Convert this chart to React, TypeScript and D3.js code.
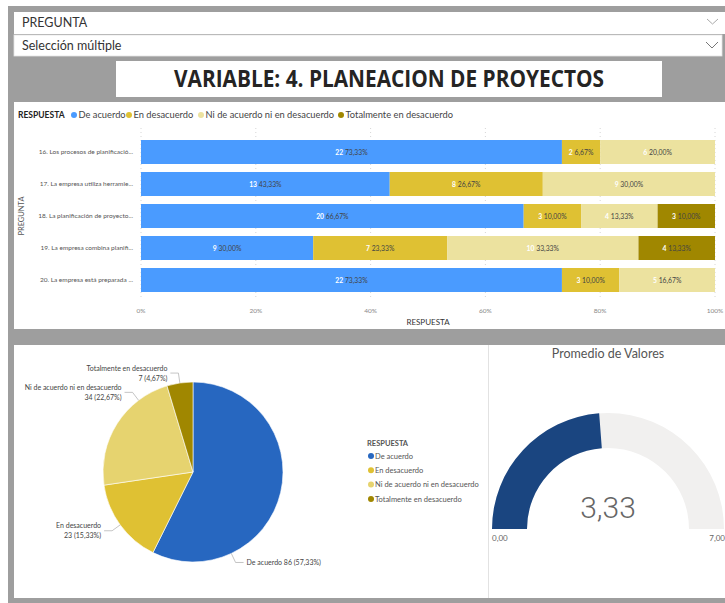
import React from "react";
import * as d3 from "d3";

// ---------- DATA ----------
const questions = [
  "16. Los procesos de planificació...",
  "17. La empresa utiliza herramie...",
  "18. La planificación de proyecto...",
  "19. La empresa combina planifi...",
  "20. La empresa está preparada ...",
];
const responses = [
  "De acuerdo",
  "En desacuerdo",
  "Ni de acuerdo ni en desacuerdo",
  "Totalmente en desacuerdo",
];
const deAcuerdo = [22, 13, 20, 9, 22];
const enDesacuerdo = [2, 8, 3, 7, 3];
const niDeAcuerdo = [6, 9, 4, 10, 5];
const totalmente = [0, 0, 3, 4, 0];
const xTickValues = [0, 0.2, 0.4, 0.6, 0.8, 1];
const gaugeValue = 3.33;
const gaugeMin = 0;
const gaugeMax = 7;

// ---------- STYLE / LAYOUT ----------
const barColors = ["#4A9BFF", "#DFC133", "#ECE29F", "#A08700"];
const pieColors = ["#2767C0", "#DFC133", "#E6D36F", "#A08700"];
const legendX = [74, 129, 201, 341];
const pieLabelFrac = [0.75, 0.5, 0.75, 0.5];
const FONT = "Lato, 'Open Sans', sans-serif";

const fmtNum = (v: number, d = 2) => v.toFixed(d).replace(".", ",");

export default function App() {
  const series = [deAcuerdo, enDesacuerdo, niDeAcuerdo, totalmente];
  const rows = questions.map((q, i) => {
    const o: any = { q };
    responses.forEach((r, k) => (o[r] = series[k][i]));
    return o;
  });
  const stacked = d3.stack<any>().keys(responses).offset(d3.stackOffsetExpand)(rows);

  const x = d3.scaleLinear().domain([0, 1]).range([141, 715]);
  const y = d3.scaleBand<string>().domain(questions).range([134, 298]).paddingInner(0.25).paddingOuter(0.1875);

  // pie
  const totals = responses.map((r, k) => ({ name: r, value: d3.sum(series[k]), k }));
  const grand = d3.sum(totals, (d) => d.value);
  const pie = d3.pie<any>().sort(null).value((d) => d.value)(totals);
  const pcx = 193, pcy = 472, pr = 90;
  const arc = d3.arc<any>().innerRadius(0).outerRadius(pr);

  // gauge
  const gcx = 608, gcy = 529;
  const gScale = d3.scaleLinear().domain([gaugeMin, gaugeMax]).range([-Math.PI / 2, Math.PI / 2]);
  const gArc = d3.arc<any>().innerRadius(81).outerRadius(116);

  return (
    <div style={{ position: "absolute", left: 0, top: 0 }}>
      <svg width={725} height={603} style={{ display: "block", fontFamily: FONT }}>
        <rect x={0} y={0} width={725} height={603} fill="#ffffff" />
        <rect x={8} y={6} width={717} height={597} fill="#9E9E9E" />

        {/* Slicer */}
        <rect x={14} y={12} width={711} height={22} fill="#ffffff" />
        <rect x={14} y={35} width={708} height={21} fill="#ffffff" stroke="#e4e4e4" strokeWidth={0.8} />
        <text x={22} y={27} fontSize={12.5} fill="#333">PREGUNTA</text>
        <path d="M707,19 L712.5,24 L718,19" fill="none" stroke="#aaa" strokeWidth={1} />
        <text x={22} y={50} fontSize={12.5} fill="#333">Selección múltiple</text>
        <path d="M706,42 L712,48 L718,42" fill="none" stroke="#777" strokeWidth={1} />

        {/* Title */}
        <rect x={116} y={61} width={546} height={36} fill="#ffffff" />
        <text x={389} y={87} fontSize={24} fontWeight={700} textAnchor="middle" fill="#252423"
          textLength={430} lengthAdjust="spacingAndGlyphs" fontFamily="'Open Sans', sans-serif">
          VARIABLE: 4. PLANEACION DE PROYECTOS
        </text>

        {/* Bar panel */}
        <rect x={14} y={102} width={711} height={227} fill="#ffffff" />
        <text x={18} y={118} fontSize={8.5} fontWeight={700} fill="#222">RESPUESTA</text>
        {responses.map((r, k) => (
          <g key={r}>
            <circle cx={legendX[k]} cy={115} r={3} fill={barColors[k]} />
            <text x={legendX[k] + 4.5} y={118} fontSize={9.3} fill="#444">{r}</text>
          </g>
        ))}
        {xTickValues.map((t) => (
          <g key={t}>
            <line x1={x(t)} x2={x(t)} y1={128} y2={300} stroke="#ccc" strokeWidth={0.8} strokeDasharray="1,3" />
            <text x={x(t)} y={313} fontSize={6.5} fill="#888" textAnchor="middle">{d3.format(".0%")(t)}</text>
          </g>
        ))}
        {stacked.map((s, k) => (
          <g key={s.key}>
            {s.map((d, i) => (
              <rect key={i} x={x(d[0])} y={y(questions[i])} width={Math.max(0, x(d[1]) - x(d[0]))}
                height={y.bandwidth()} fill={barColors[k]} />
            ))}
          </g>
        ))}
        {stacked.map((s, k) =>
          s.map((d, i) => {
            const v = series[k][i];
            if (!v) return null;
            const cx = (x(d[0]) + x(d[1])) / 2;
            const tot = d3.sum(series, (ss) => ss[i]);
            return (
              <text key={`${k}-${i}`} x={cx} y={(y(questions[i]) as number) + y.bandwidth() / 2 + 2.5}
                fontSize={6.8} textAnchor="middle">
                <tspan fill="#ffffff" fontWeight={700}>{v}</tspan>
                <tspan fill="#444"> {fmtNum((v / tot) * 100)}%</tspan>
              </text>
            );
          })
        )}
        {questions.map((q) => (
          <text key={q} x={133} y={(y(q) as number) + y.bandwidth() / 2 + 2.3} fontSize={6.5} fill="#555" textAnchor="end">{q}</text>
        ))}
        <text transform="translate(24,216) rotate(-90)" fontSize={7.5} fill="#555" textAnchor="middle">PREGUNTA</text>
        <text x={428} y={325} fontSize={8} fill="#333" textAnchor="middle">RESPUESTA</text>

        {/* Bottom panel */}
        <rect x={14} y={345} width={711} height={253} fill="#ffffff" />
        <line x1={488.5} x2={488.5} y1={345} y2={598} stroke="#e2e2e2" strokeWidth={1} />

        {/* Pie */}
        <g transform={`translate(${pcx},${pcy})`}>
          {pie.map((a, k) => (
            <path key={k} d={arc(a) as string} fill={pieColors[k]} stroke="#fff" strokeWidth={0.6} />
          ))}
        </g>
        {pie.map((a, k) => {
          const ang = a.startAngle + pieLabelFrac[k] * (a.endAngle - a.startAngle);
          const sx = Math.sin(ang), sy = -Math.cos(ang);
          const p0 = [pcx + pr * sx, pcy + pr * sy];
          const p1 = [pcx + (pr + 10) * sx, pcy + (pr + 10) * sy];
          const right = sx > 0;
          const p2 = [p1[0] + (right ? 8 : -8), p1[1]];
          const tx = p2[0] + (right ? 3 : -3);
          const d = a.data;
          const pct = `${d.value} (${fmtNum((d.value / grand) * 100)}%)`;
          return (
            <g key={k}>
              <polyline points={`${p0[0]},${p0[1]} ${p1[0]},${p1[1]} ${p2[0]},${p2[1]}`} fill="none" stroke="#aaa" strokeWidth={0.7} />
              {right ? (
                <text x={tx} y={p2[1] + 2.5} fontSize={7} fill="#444">{`${d.name} ${pct}`}</text>
              ) : (
                <text x={tx} y={p2[1] - 2.5} fontSize={7} fill="#444" textAnchor="end">
                  <tspan x={tx}>{d.name}</tspan>
                  <tspan x={tx} dy={10}>{pct}</tspan>
                </text>
              )}
            </g>
          );
        })}

        {/* Pie legend */}
        <text x={367} y={446} fontSize={7.5} fontWeight={700} fill="#555">RESPUESTA</text>
        {responses.map((r, k) => (
          <g key={r}>
            <circle cx={371} cy={456 + k * 14.3} r={3} fill={pieColors[k]} />
            <text x={375} y={458.8 + k * 14.3} fontSize={7.5} fill="#555">{r}</text>
          </g>
        ))}

        {/* Gauge */}
        <text x={608} y={358} fontSize={12.5} fill="#555" textAnchor="middle">Promedio de Valores</text>
        <g transform={`translate(${gcx},${gcy})`}>
          <path d={gArc({ startAngle: gScale(gaugeMin), endAngle: gScale(gaugeMax) }) as string} fill="#F1F0EF" />
          <path d={gArc({ startAngle: gScale(gaugeMin), endAngle: gScale(gaugeValue) }) as string} fill="#1A4580" />
        </g>
        <text x={gcx} y={518} fontSize={30} fontWeight={300} fill="#666" textAnchor="middle" fontFamily="Roboto, Lato, sans-serif">{fmtNum(gaugeValue)}</text>
        <text x={gcx - 116} y={541} fontSize={8} fill="#666">{fmtNum(gaugeMin)}</text>
        <text x={725} y={541} fontSize={8} fill="#666" textAnchor="end">{fmtNum(gaugeMax)}</text>
      </svg>
    </div>
  );
}
